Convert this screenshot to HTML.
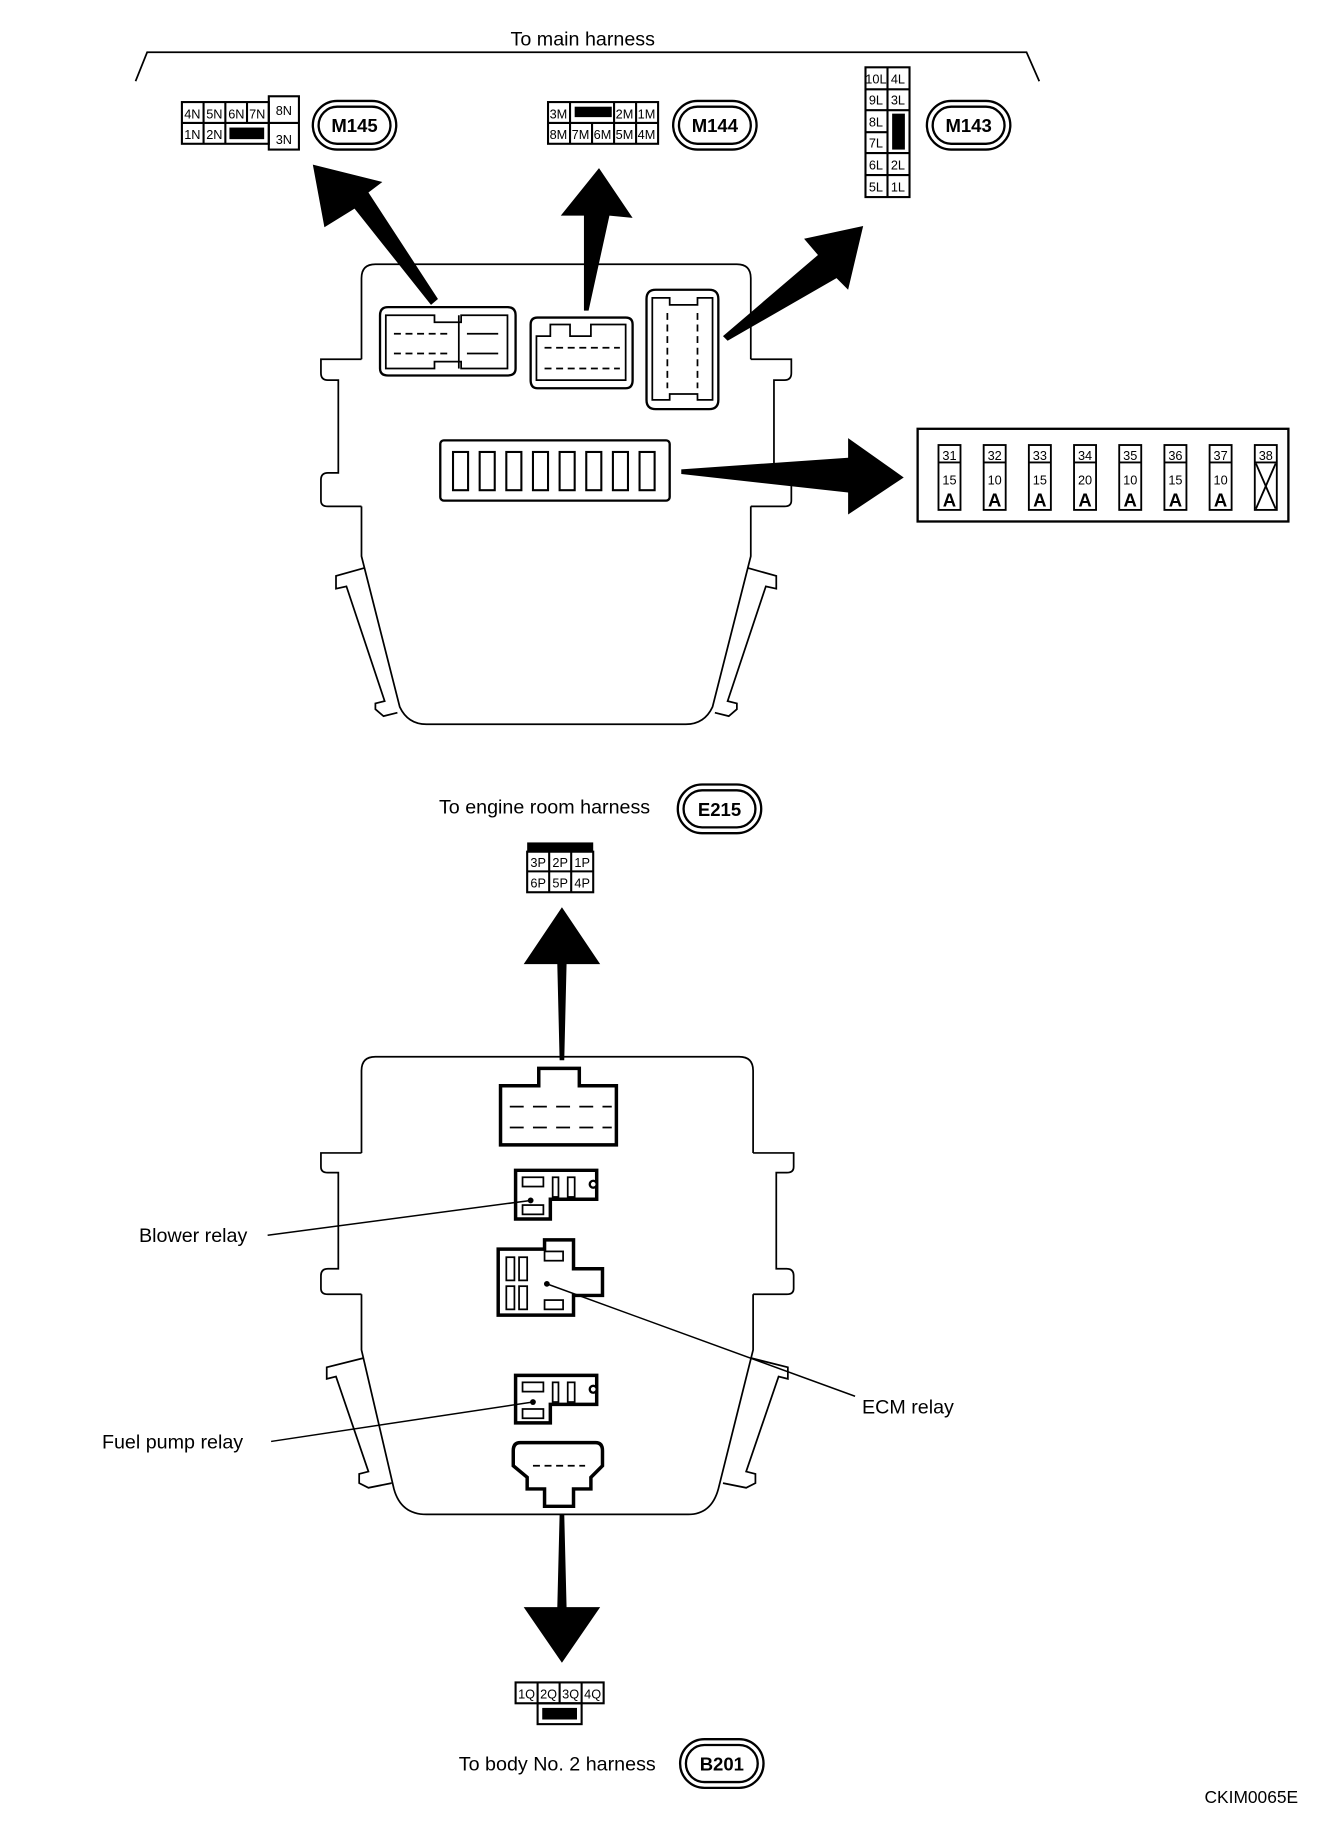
<!DOCTYPE html>
<html><head><style>
html,body{margin:0;padding:0;background:#fff;}
svg{display:block;}
text{font-family:"Liberation Sans",sans-serif;fill:#000;}
.t{font-size:17px;}
.c{font-size:11px;}
</style></head><body>
<svg width="1344" height="1832" viewBox="0 0 1160 1581" xmlns="http://www.w3.org/2000/svg">
<g fill="none" stroke="#000" stroke-width="1.5">
<path d="M117,70 L127,45 H886 L897,70"/>
</g>
<text class="t" x="503" y="39" text-anchor="middle">To main harness</text>

<g fill="none" stroke="#000" stroke-width="1.8">
<rect x="157" y="88" width="75" height="36"/>
<line x1="157" y1="106" x2="232" y2="106"/>
<line x1="175.7" y1="88" x2="175.7" y2="124"/><line x1="194.5" y1="88" x2="194.5" y2="124"/><line x1="213.2" y1="88" x2="213.2" y2="106"/>
<rect x="232" y="83" width="26" height="46"/><line x1="232" y1="106" x2="258" y2="106"/>
</g>
<rect x="198" y="110" width="30" height="10" fill="#000"/>
<g text-anchor="middle">
<text x="166" y="102" class="c">4N</text><text x="185" y="102" class="c">5N</text><text x="204" y="102" class="c">6N</text><text x="222" y="102" class="c">7N</text><text x="245" y="99" class="c">8N</text>
<text x="166" y="120" class="c">1N</text><text x="185" y="120" class="c">2N</text><text x="245" y="124" class="c">3N</text>
</g>
<g fill="none" stroke="#000" stroke-width="1.8">
<rect x="473" y="88" width="95" height="36"/>
<line x1="473" y1="106" x2="568" y2="106"/>
<line x1="492" y1="88" x2="492" y2="124"/><line x1="511" y1="106" x2="511" y2="124"/><line x1="530" y1="88" x2="530" y2="124"/><line x1="549" y1="88" x2="549" y2="124"/>
</g>
<rect x="496" y="92" width="32" height="9" fill="#000"/>
<g text-anchor="middle">
<text x="482" y="102" class="c">3M</text><text x="539" y="102" class="c">2M</text><text x="558" y="102" class="c">1M</text>
<text x="482" y="120" class="c">8M</text><text x="501" y="120" class="c">7M</text><text x="520" y="120" class="c">6M</text><text x="539" y="120" class="c">5M</text><text x="558" y="120" class="c">4M</text>
</g>
<g fill="none" stroke="#000" stroke-width="1.8">
<rect x="747" y="58" width="38" height="112"/>
<line x1="766" y1="58" x2="766" y2="170"/>
<line x1="747" y1="77" x2="785" y2="77"/><line x1="747" y1="95" x2="785" y2="95"/><line x1="747" y1="114" x2="766" y2="114"/><line x1="747" y1="132" x2="785" y2="132"/><line x1="747" y1="151" x2="785" y2="151"/>
</g>
<rect x="770" y="98" width="11" height="31" fill="#000"/>
<g text-anchor="middle">
<text x="756" y="72" class="c">10L</text><text x="775" y="72" class="c">4L</text>
<text x="756" y="90" class="c">9L</text><text x="775" y="90" class="c">3L</text>
<text x="756" y="109" class="c">8L</text>
<text x="756" y="127" class="c">7L</text>
<text x="756" y="146" class="c">6L</text><text x="775" y="146" class="c">2L</text>
<text x="756" y="165" class="c">5L</text><text x="775" y="165" class="c">1L</text>
</g>
<g fill="none" stroke="#000" stroke-width="2">
<rect x="270" y="87" width="72" height="42" rx="21"/><rect x="275" y="92" width="62" height="32" rx="16"/>
<rect x="581" y="87" width="72" height="42" rx="21"/><rect x="586" y="92" width="62" height="32" rx="16"/>
<rect x="800" y="87" width="72" height="42" rx="21"/><rect x="805" y="92" width="62" height="32" rx="16"/>
<rect x="585" y="677" width="72" height="42" rx="21"/><rect x="590" y="682" width="62" height="32" rx="16"/>
<rect x="587" y="1501" width="72" height="42" rx="21"/><rect x="592" y="1506" width="62" height="32" rx="16"/>
</g>
<g text-anchor="middle" font-size="16" font-weight="bold">
<text x="306" y="114">M145</text><text x="617" y="114">M144</text><text x="836" y="114">M143</text>
<text x="621" y="704">E215</text><text x="623" y="1528">B201</text>
</g>

<g fill="#000">
<polygon points="270,142 330,157 318,166 378,258 372,263 306,180 280,196"/>
<polygon points="517,145 546,188 526,186 508,268 504,268 504,186 484,186"/>
<polygon points="745,195 732,250 722,240 628,294 624,290 706,220 694,206"/>
<polygon points="588,405 732,395 732,378 780,412 732,444 732,425 588,409"/>
<polygon points="485,783 518,832 489,832 487,915 483,915 481,832 452,832"/>
<polygon points="485,1435 518,1387 489,1387 487,1307 483,1307 481,1387 452,1387"/>
</g>

<g fill="none" stroke="#000" stroke-width="1.5">
<path d="M312,310 V240 Q312,228 324,228 H636 Q648,228 648,240 V310"/>
<path d="M312,310 H277 V322 Q277,328 283,328 H292 V408 H283 Q277,408 277,414 V432 Q277,437 283,437 H312"/>
<path d="M648,310 H683 V322 Q683,328 677,328 H668 V408 H677 Q683,408 683,414 V432 Q683,437 677,437 H648"/>
<path d="M312,437 V480 L345,610 Q352,625 368,625 H592 Q608,625 615,610 L648,480 V437"/>
<path d="M315,490 L290,497 V508 L299,506 L332,605 L324,607 V612 L331,618 L343,615"/>
<path d="M645,490 L670,497 V508 L661,506 L628,605 L636,607 V612 L629,618 L617,615"/>
<path d="M328,272 Q328,265 335,265 H438 Q445,265 445,272 V318 Q445,324 438,324 H335 Q328,324 328,318 Z" stroke-width="2"/>
<path d="M333,272 H375 V278 H398 V272 H438 V318 H398 V312 H375 V318 H333 Z"/>
<line x1="396" y1="272" x2="396" y2="318"/>
<g stroke-dasharray="6,4"><line x1="340" y1="288" x2="390" y2="288"/><line x1="340" y1="305" x2="390" y2="305"/></g>
<line x1="403" y1="288" x2="430" y2="288"/><line x1="403" y1="305" x2="430" y2="305"/>
<path d="M458,280 Q458,274 464,274 H540 Q546,274 546,280 V328 Q546,335 540,335 H464 Q458,335 458,328 Z" stroke-width="2"/>
<path d="M463,290 H475 V280 H492 V290 H510 V280 H540 V328 H463 Z"/>
<g stroke-dasharray="6,4"><line x1="470" y1="300" x2="535" y2="300"/><line x1="470" y1="318" x2="535" y2="318"/></g>
<path d="M558,258 Q558,250 566,250 H612 Q620,250 620,258 V345 Q620,353 612,353 H566 Q558,353 558,345 Z" stroke-width="2"/>
<path d="M563,257 H578 V263 H602 V257 H615 V345 H602 V340 H578 V345 H563 Z"/>
<g stroke-dasharray="6,4"><line x1="576" y1="270" x2="576" y2="335"/><line x1="602" y1="270" x2="602" y2="335"/></g>
<rect x="380" y="380" width="198" height="52" rx="3" stroke-width="2"/>
</g>
<g fill="none" stroke="#000" stroke-width="1.8">
<rect x="391" y="390" width="13" height="33"/><rect x="414" y="390" width="13" height="33"/><rect x="437" y="390" width="13" height="33"/><rect x="460" y="390" width="13" height="33"/>
<rect x="483" y="390" width="13" height="33"/><rect x="506" y="390" width="13" height="33"/><rect x="529" y="390" width="13" height="33"/><rect x="552" y="390" width="13" height="33"/>
</g>

<rect x="792" y="370" width="320" height="80" fill="none" stroke="#000" stroke-width="2"/>
<g fill="none" stroke="#000" stroke-width="1.6">
<rect x="810" y="384" width="19" height="56"/><line x1="810" y1="399" x2="829" y2="399"/>
<rect x="849" y="384" width="19" height="56"/><line x1="849" y1="399" x2="868" y2="399"/>
<rect x="888" y="384" width="19" height="56"/><line x1="888" y1="399" x2="907" y2="399"/>
<rect x="927" y="384" width="19" height="56"/><line x1="927" y1="399" x2="946" y2="399"/>
<rect x="966" y="384" width="19" height="56"/><line x1="966" y1="399" x2="985" y2="399"/>
<rect x="1005" y="384" width="19" height="56"/><line x1="1005" y1="399" x2="1024" y2="399"/>
<rect x="1044" y="384" width="19" height="56"/><line x1="1044" y1="399" x2="1063" y2="399"/>
<rect x="1083" y="384" width="19" height="56"/><line x1="1083" y1="399" x2="1102" y2="399"/>
<line x1="1084" y1="400" x2="1101" y2="439"/><line x1="1101" y1="400" x2="1084" y2="439"/>
</g>
<g text-anchor="middle" font-size="11">
<text x="819.5" y="397">31</text><text x="858.5" y="397">32</text><text x="897.5" y="397">33</text><text x="936.5" y="397">34</text>
<text x="975.5" y="397">35</text><text x="1014.5" y="397">36</text><text x="1053.5" y="397">37</text><text x="1092.5" y="397">38</text>
<text x="819.5" y="418">15</text><text x="858.5" y="418">10</text><text x="897.5" y="418">15</text><text x="936.5" y="418">20</text>
<text x="975.5" y="418">10</text><text x="1014.5" y="418">15</text><text x="1053.5" y="418">10</text>
</g>
<g text-anchor="middle" font-size="16" font-weight="bold">
<text x="819.5" y="437">A</text><text x="858.5" y="437">A</text><text x="897.5" y="437">A</text><text x="936.5" y="437">A</text>
<text x="975.5" y="437">A</text><text x="1014.5" y="437">A</text><text x="1053.5" y="437">A</text>
</g>

<text class="t" x="470" y="702" text-anchor="middle">To engine room harness</text>
<rect x="455" y="727" width="57" height="8" fill="#000"/>
<g fill="none" stroke="#000" stroke-width="1.8">
<rect x="455" y="735" width="57" height="35"/><line x1="455" y1="752" x2="512" y2="752"/>
<line x1="474" y1="735" x2="474" y2="770"/><line x1="493" y1="735" x2="493" y2="770"/>
</g>
<g text-anchor="middle">
<text x="464.5" y="748" class="c">3P</text><text x="483.5" y="748" class="c">2P</text><text x="502.5" y="748" class="c">1P</text>
<text x="464.5" y="766" class="c">6P</text><text x="483.5" y="766" class="c">5P</text><text x="502.5" y="766" class="c">4P</text>
</g>

<g fill="none" stroke="#000" stroke-width="1.5">
<path d="M312,995 V924 Q312,912 324,912 H638 Q650,912 650,924 V995"/>
<path d="M312,995 H277 V1007 Q277,1012 283,1012 H292 V1095 H283 Q277,1095 277,1101 V1112 Q277,1117 283,1117 H312"/>
<path d="M650,995 H685 V1007 Q685,1012 679,1012 H670 V1095 H679 Q685,1095 685,1101 V1112 Q685,1117 679,1117 H650"/>
<path d="M312,1117 V1165 L340,1285 Q346,1307 368,1307 H594 Q614,1307 620,1285 L650,1165 V1117"/>
<path d="M314,1172 L282,1180 V1190 L290,1188 L318,1270 L310,1272 V1280 L318,1284 L338,1280"/>
<path d="M648,1172 L680,1180 V1190 L672,1188 L644,1270 L652,1272 V1280 L644,1284 L624,1280"/>
</g>
<g fill="none" stroke="#000" stroke-width="3">
<path d="M432,937 H465 V922 H500 V937 H532 V988 H432 Z"/>
<path d="M445,1010 H515 V1035 H475 V1052 H445 Z"/>
<path d="M430,1078 H470 V1070 H495 V1095 H520 V1118 H495 V1135 H430 Z"/>
<path d="M445,1187 H515 V1212 H475 V1228 H445 Z"/>
<path d="M449,1245 H514 Q520,1245 520,1252 V1265 L510,1275 V1285 H495 V1300 H470 V1285 H455 V1275 L443,1265 V1252 Q443,1245 449,1245 Z"/>
</g>
<g fill="none" stroke="#000" stroke-width="1.5">
<g stroke-dasharray="12,8"><line x1="440" y1="955" x2="528" y2="955"/><line x1="440" y1="973" x2="528" y2="973"/></g>
<rect x="451" y="1016" width="18" height="8"/><rect x="451" y="1040" width="18" height="8"/>
<rect x="477" y="1016" width="5" height="17"/><rect x="490" y="1016" width="6" height="17"/>
<rect x="451" y="1193" width="18" height="8"/><rect x="451" y="1216" width="18" height="8"/>
<rect x="477" y="1193" width="5" height="17"/><rect x="490" y="1193" width="6" height="17"/>
<rect x="437" y="1085" width="7" height="20"/><rect x="448" y="1085" width="7" height="20"/>
<rect x="437" y="1110" width="7" height="20"/><rect x="448" y="1110" width="7" height="20"/>
<rect x="470" y="1080" width="16" height="8"/><rect x="470" y="1122" width="16" height="8"/>
<line x1="460" y1="1265" x2="505" y2="1265" stroke-dasharray="6,4"/>
</g>
<circle cx="512" cy="1022" r="3" fill="#fff" stroke="#000" stroke-width="2"/>
<circle cx="512" cy="1199" r="3" fill="#fff" stroke="#000" stroke-width="2"/>
<g stroke="#000" stroke-width="1.3">
<line x1="231" y1="1066" x2="458" y2="1036"/>
<line x1="234" y1="1244" x2="460" y2="1210"/>
<line x1="472" y1="1108" x2="738" y2="1205"/>
</g>
<circle cx="458" cy="1036" r="2.5"/><circle cx="460" cy="1210" r="2.5"/><circle cx="472" cy="1108" r="2.5"/>
<text class="t" x="120" y="1072">Blower relay</text>
<text class="t" x="88" y="1250">Fuel pump relay</text>
<text class="t" x="744" y="1220">ECM relay</text>

<g fill="none" stroke="#000" stroke-width="1.8">
<rect x="445" y="1452" width="76" height="18"/>
<line x1="464" y1="1452" x2="464" y2="1470"/><line x1="483" y1="1452" x2="483" y2="1470"/><line x1="502" y1="1452" x2="502" y2="1470"/>
<rect x="464" y="1470" width="38" height="18"/>
</g>
<rect x="468" y="1474" width="30" height="10" fill="#000"/>
<g text-anchor="middle">
<text x="454.5" y="1466" class="c">1Q</text><text x="473.5" y="1466" class="c">2Q</text><text x="492.5" y="1466" class="c">3Q</text><text x="511.5" y="1466" class="c">4Q</text>
</g>
<text class="t" x="481" y="1528" text-anchor="middle">To body No. 2 harness</text>
<text x="1080" y="1556" font-size="15" text-anchor="middle">CKIM0065E</text>
</svg>
</body></html>
